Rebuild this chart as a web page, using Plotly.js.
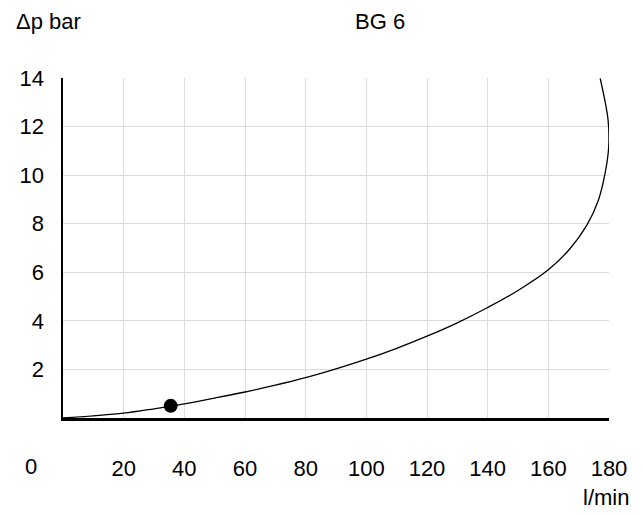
<!DOCTYPE html>
<html>
<head>
<meta charset="utf-8">
<script src="https://cdn.plot.ly/plotly-3.0.1.min.js"></script>
<style>html,body{margin:0;padding:0;background:#fff;}#chart{width:643px;height:515px;}</style>
</head>
<body>
<div id="chart"></div>
<script>
// Flow (l/min) vs pressure drop (bar), curve BG 6
const flow = [0, 10, 20, 30, 40, 50, 60, 70, 80, 90, 100, 110, 120, 130, 140, 150, 160, 167.2, 172.7, 176.5, 178.7, 179.9, 179.7, 178.4, 177.1];
const dp   = [0, 0.09, 0.2, 0.38, 0.58, 0.82, 1.07, 1.35, 1.66, 2.02, 2.42, 2.87, 3.37, 3.92, 4.55, 5.25, 6.1, 6.98, 7.94, 8.97, 10.07, 11.16, 12.26, 13.22, 13.98];
const pointFlow = [35.5];
const pointDp = [0.5];
const xTicks = [20, 40, 60, 80, 100, 120, 140, 160, 180];
const yTicks = [2, 4, 6, 8, 10, 12, 14];

const font = {family: 'Liberation Sans, Arial, sans-serif', size: 22, color: '#000'};

const traces = [
  {x: flow, y: dp, mode: 'lines', line: {color: '#000', width: 1.3, shape: 'spline', smoothing: 1}, hoverinfo: 'skip'},
  {x: pointFlow, y: pointDp, mode: 'markers', marker: {color: '#000', size: 14}, hoverinfo: 'skip'}
];

const layout = {
  width: 643, height: 515,
  margin: {l: 63, r: 34, t: 78, b: 97},
  paper_bgcolor: '#fff', plot_bgcolor: '#fff',
  showlegend: false,
  font: font,
  xaxis: {
    range: [0, 180], tickvals: xTicks, ticktext: xTicks.map(String),
    showgrid: true, gridcolor: '#dcdce0', gridwidth: 1,
    showline: true, linecolor: '#000', linewidth: 2.5, zeroline: false,
    ticks: '', ticklabelstandoff: 29, tickfont: font, fixedrange: true
  },
  yaxis: {
    range: [0, 14], tickvals: yTicks, ticktext: yTicks.map(String),
    showgrid: true, gridcolor: '#dcdce0', gridwidth: 1,
    showline: true, linecolor: '#000', linewidth: 2.5, zeroline: false,
    ticks: '', ticklabelstandoff: 12, tickfont: font, fixedrange: true
  },
  annotations: [
    {text: 'Δp bar', xref: 'paper', yref: 'paper', x: -0.09, y: 1.165, xanchor: 'left', yanchor: 'middle', showarrow: false, font: font},
    {text: 'BG 6', xref: 'paper', yref: 'paper', x: 0.58, y: 1.165, xanchor: 'center', yanchor: 'middle', showarrow: false, font: font},
    {text: '0', xref: 'paper', yref: 'paper', x: -0.058, y: -0.142, xanchor: 'center', yanchor: 'middle', showarrow: false, font: font},
    {text: 'l/min', xref: 'paper', yref: 'paper', x: 1.04, y: -0.235, xanchor: 'right', yanchor: 'middle', showarrow: false, font: font}
  ]
};

Plotly.newPlot('chart', traces, layout, {displayModeBar: false, staticPlot: true});
</script>
</body>
</html>
